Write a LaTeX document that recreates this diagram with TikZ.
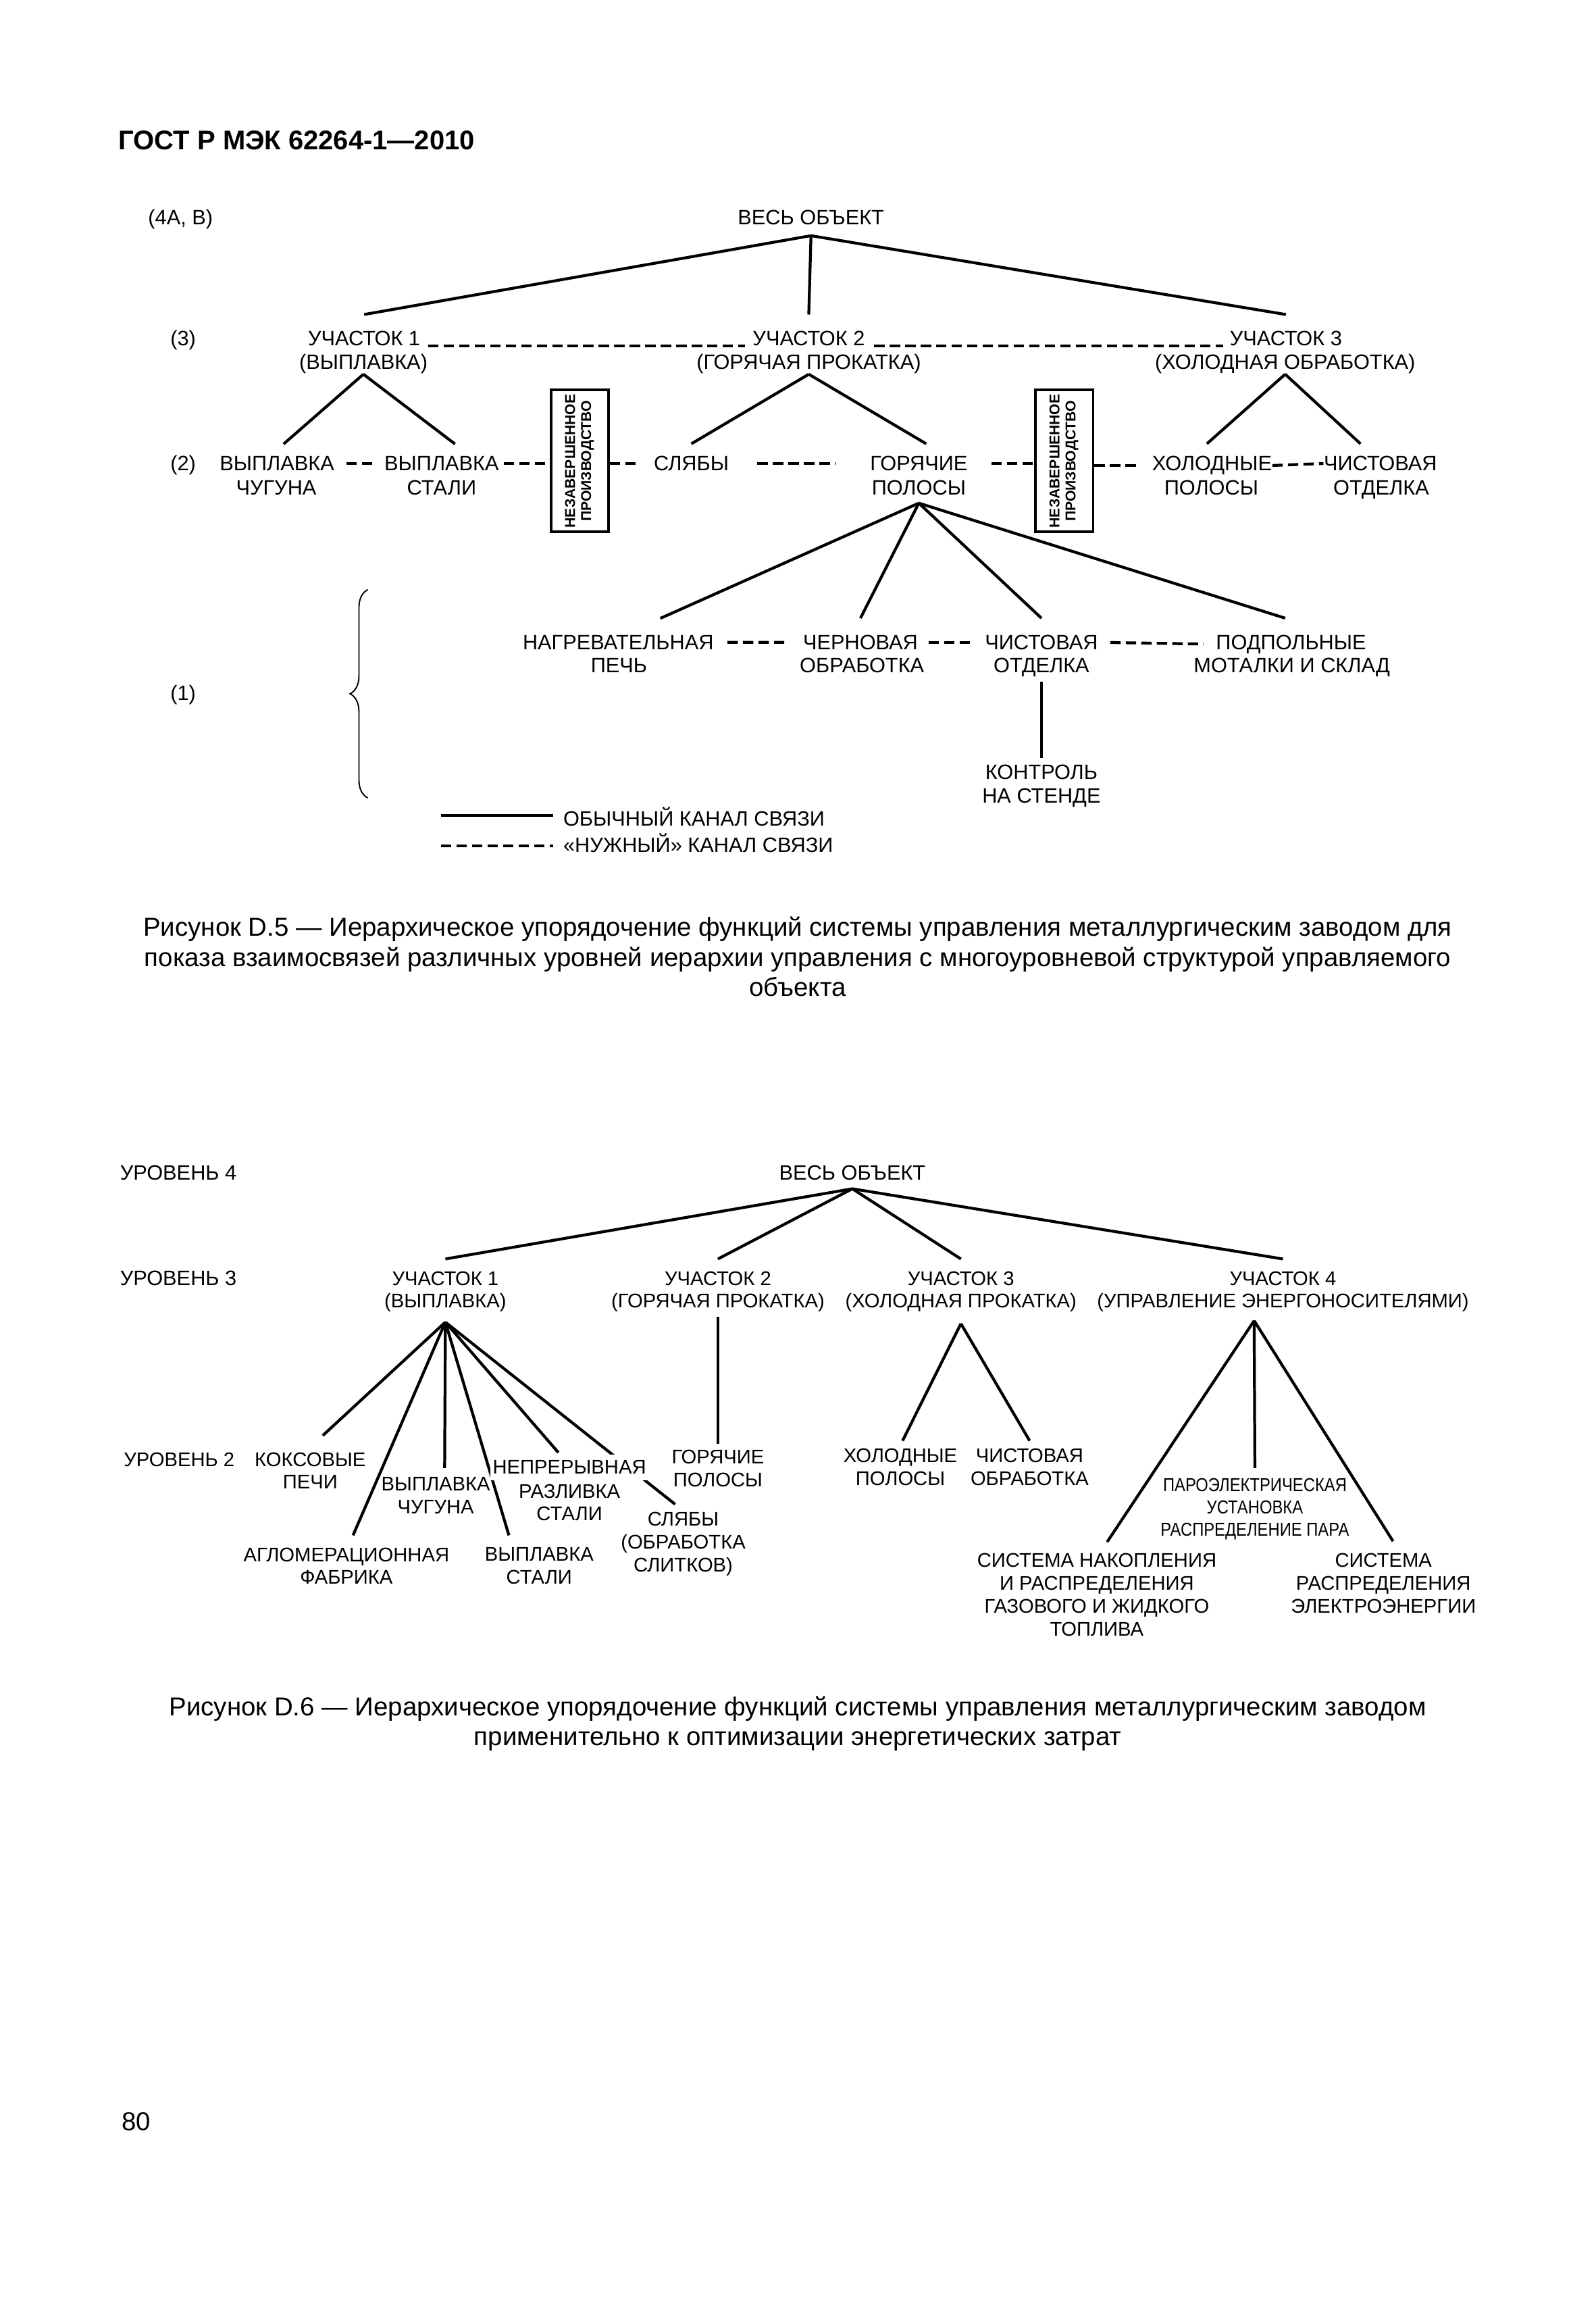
\documentclass[tikz,border=0pt]{standalone}
\usepackage{fontspec}
\usepackage{graphicx}
\setmainfont{Liberation Sans}
\newfontfamily\narrowsf[FakeStretch=0.86]{Liberation Sans}
\usetikzlibrary{decorations.pathreplacing,backgrounds}
\tikzset{
  txt/.style={anchor=base,inner sep=0pt,font=\fontsize{8}{8.8}\selectfont},
  blk/.style={anchor=north,inner sep=0pt,align=center,font=\fontsize{7.6}{8.8}\selectfont},
  link/.style={line width=1.1pt},
  need/.style={line width=1.1pt,dash pattern=on 1.4mm off 0.7mm},
  wip/.style={draw,line width=1pt,inner sep=0pt,minimum width=7.8mm,minimum height=19.2mm,font=\fontsize{5.5}{6.2}\selectfont\bfseries},
  capt/.style={align=center,inner sep=0pt,font=\fontsize{10}{11.6}\selectfont}
}
\newcommand{\wiptext}{\rotatebox{90}{\begin{tabular}{@{}c@{}}НЕЗАВЕРШЕННОЕ\\ПРОИЗВОДСТВО\end{tabular}}}
\begin{document}
\begin{tikzpicture}[x=0.2mm,y=-0.2mm]
\useasboundingbox(0,0)rectangle(1080,1566);
\node[anchor=west,inner sep=0pt,font=\fontsize{10.4}{12}\selectfont\bfseries](hdr)at(80,95){ГОСТ Р МЭК 62264-1—2010};
\node[txt,anchor=base west](l4)at(100,152){(4А, В)};
\node[txt](all5)at(549,152){ВЕСЬ ОБЪЕКТ};
\node[txt](l3)at(124,234){(3)};
\node[txt](u1)at(246.5,234){УЧАСТОК 1};
\node[txt](u1s)at(246,250){(ВЫПЛАВКА)};
\node[txt](u2)at(547.5,234){УЧАСТОК 2};
\node[txt](u2s)at(547.5,250){(ГОРЯЧАЯ ПРОКАТКА)};
\node[txt](u3)at(870.5,234){УЧАСТОК 3};
\node[txt](u3s)at(870,250){(ХОЛОДНАЯ ОБРАБОТКА)};
\draw[link]([yshift=-1.4mm]all5.south)--([yshift=2.2mm]u1.north);
\draw[link]([yshift=-1.4mm]all5.south)--([yshift=2.2mm]u2.north);
\draw[link]([yshift=-1.4mm]all5.south)--([yshift=2.2mm]u3.north);
\draw[need,shorten <=1mm,shorten >=1mm](u1.base east)--(u2.base west);
\draw[need,shorten <=1.2mm,shorten >=0.8mm](u2.base east)--(u3.base west);
\node[txt](l2)at(124,318.5){(2)};
\node[txt](pig)at(187.5,318.5){ВЫПЛАВКА};
\node[txt](pigs)at(187,335){ЧУГУНА};
\node[txt](stl)at(299,318.5){ВЫПЛАВКА};
\node[txt](stls)at(299,335){СТАЛИ};
\node[wip](wip1)at(392.5,312){\wiptext};
\node[txt](slab)at(468,318.5){СЛЯБЫ};
\node[txt](hot)at(622,318.5){ГОРЯЧИЕ};
\node[txt](hots)at(622,335){ПОЛОСЫ};
\node[wip](wip2)at(720.5,312){\wiptext};
\node[txt](cold)at(820.5,318.5){ХОЛОДНЫЕ};
\node[txt](colds)at(820,335){ПОЛОСЫ};
\node[txt](fin)at(934.5,318.5){ЧИСТОВАЯ};
\node[txt](fins)at(935,335){ОТДЕЛКА};
\draw[link](u1s.south)--([xshift=0.9mm,yshift=1.6mm]pig.north);
\draw[link](u1s.south)--([xshift=1.8mm,yshift=1.6mm]stl.north);
\draw[link](u2s.south)--([yshift=1.6mm]slab.north);
\draw[link](u2s.south)--([xshift=1mm,yshift=1.6mm]hot.north);
\draw[link](u3s.south)--([xshift=-0.7mm,yshift=1.6mm]cold.north);
\draw[link](u3s.south)--([xshift=-2.7mm,yshift=1.6mm]fin.north);
\draw[need,shorten <=1.6mm,shorten >=1.2mm](pig.east)--(stl.west);
\draw[need,shorten <=0.6mm](stl.east)--(stl.east-|wip1.west);
\draw[need,shorten >=1.8mm](wip1.east|-slab.west)--(slab.west);
\draw[need,shorten <=3.8mm,shorten >=4.6mm](slab.east)--(hot.west);
\draw[need,shorten <=3.2mm](hot.east)--(hot.east-|wip2.west);
\draw[need,shorten >=1.6mm](wip2.east|-cold.west)--(cold.west);
\draw[need](cold.east)--(fin.west);
\node[txt](heat)at(418.5,439.5){НАГРЕВАТЕЛЬНАЯ};
\node[txt](heats)at(419,455){ПЕЧЬ};
\node[txt](rough)at(582.5,439.5){ЧЕРНОВАЯ};
\node[txt](roughs)at(583.5,455){ОБРАБОТКА};
\node[txt](fine)at(705,439.5){ЧИСТОВАЯ};
\node[txt](fines)at(705,455){ОТДЕЛКА};
\node[txt](coil)at(874,439.5){ПОДПОЛЬНЫЕ};
\node[txt](coils)at(874.5,455){МОТАЛКИ И СКЛАД};
\node[txt](test)at(705,527.5){КОНТРОЛЬ};
\node[txt](tests)at(705,543.5){НА СТЕНДЕ};
\draw[link]([yshift=-1mm]hots.south)--([xshift=5.7mm,yshift=2.2mm]heat.north);
\draw[link]([yshift=-1mm]hots.south)--([yshift=2.2mm]rough.north);
\draw[link]([yshift=-1mm]hots.south)--([yshift=2.2mm]fine.north);
\draw[link]([yshift=-1mm]hots.south)--([xshift=-0.8mm,yshift=2.2mm]coil.north);
\draw[need,shorten <=1.8mm,shorten >=1.8mm](heat.east)--(rough.west);
\draw[need,shorten <=1.4mm,shorten >=1.4mm](rough.east)--(fine.west);
\draw[need,shorten <=1.6mm,shorten >=1.6mm](fine.east)--(coil.west);
\draw[link]([yshift=-0.6mm]fines.south)--([yshift=0.9mm]test.north);
\node[txt](l1)at(124,474){(1)};
\draw[line width=0.5pt,decorate,decoration={brace,amplitude=2.4mm}](249,540)--(249,399);
\node[txt,anchor=base west](legA)at(381,559){ОБЫЧНЫЙ КАНАЛ СВЯЗИ};
\node[txt,anchor=base west](legB)at(381,577){«НУЖНЫЙ» КАНАЛ СВЯЗИ};
\coordinate(legA0)at(298.6,552);
\coordinate(legB0)at(298.6,572.5);
\draw[link,shorten >=1.3mm](legA0)--(legA0-|legA.west);
\draw[need,shorten >=1.3mm](legB0)--(legB0-|legB.west);
\node[capt](cap5)at(540,647.5){Рисунок D.5 — Иерархическое упорядочение функций системы управления металлургическим заводом для\\показа взаимосвязей различных уровней иерархии управления с многоуровневой структурой управляемого\\объекта};
\node[txt,anchor=base west](lv4)at(81,798.5){УРОВЕНЬ 4};
\node[txt](all6)at(577,798.5){ВЕСЬ ОБЪЕКТ};
\node[txt,anchor=base west](lv3)at(81,870){УРОВЕНЬ 3};
\node[blk](s1)at(301.5,860){УЧАСТОК 1\\(ВЫПЛАВКА)};
\node[blk](s2)at(486,860){УЧАСТОК 2\\(ГОРЯЧАЯ ПРОКАТКА)};
\node[blk](s3)at(650.5,860){УЧАСТОК 3\\(ХОЛОДНАЯ ПРОКАТКА)};
\node[blk](s4)at(868.5,860){УЧАСТОК 4\\(УПРАВЛЕНИЕ ЭНЕРГОНОСИТЕЛЯМИ)};
\draw[link]([yshift=-1.1mm]all6.south)--([yshift=1.6mm]s1.north);
\draw[link]([yshift=-1.1mm]all6.south)--([yshift=1.6mm]s2.north);
\draw[link]([yshift=-1.1mm]all6.south)--([yshift=1.6mm]s3.north);
\draw[link]([yshift=-1.1mm]all6.south)--([yshift=1.6mm]s4.north);
\node[txt,anchor=base west,font=\fontsize{7.6}{8.8}\selectfont](lv2)at(83.5,992.5){УРОВЕНЬ 2};
\node[blk](coke)at(210,982.5){КОКСОВЫЕ\\ПЕЧИ};
\node[blk](sinter)at(234.5,1047){АГЛОМЕРАЦИОННАЯ\\ФАБРИКА};
\node[blk](iron)at(295,999.5){ВЫПЛАВКА\\ЧУГУНА};
\node[blk](steel)at(365,1047){ВЫПЛАВКА\\СТАЛИ};
\node[blk,fill=white,inner xsep=0.3mm,inner ysep=0.8mm](cast)at(385.5,984){НЕПРЕРЫВНАЯ};
\node[blk](casts)at(385.5,1004){РАЗЛИВКА\\СТАЛИ};
\node[blk](slabs)at(462.5,1023){СЛЯБЫ\\(ОБРАБОТКА\\СЛИТКОВ)};
\node[blk](hot6)at(486,981){ГОРЯЧИЕ\\ПОЛОСЫ};
\node[blk](cold6)at(609.5,980){ХОЛОДНЫЕ\\ПОЛОСЫ};
\node[blk](fin6)at(697,980){ЧИСТОВАЯ\\ОБРАБОТКА};
\node[blk,font=\narrowsf\fontsize{7.2}{8.65}\selectfont](steam)at(849.5,1000){ПАРОЭЛЕКТРИЧЕСКАЯ\\УСТАНОВКА\\РАСПРЕДЕЛЕНИЕ ПАРА};
\node[blk](fuel)at(742.5,1051){СИСТЕМА НАКОПЛЕНИЯ\\И РАСПРЕДЕЛЕНИЯ\\ГАЗОВОГО И ЖИДКОГО\\ТОПЛИВА};
\node[blk](power)at(936.5,1051){СИСТЕМА\\РАСПРЕДЕЛЕНИЯ\\ЭЛЕКТРОЭНЕРГИИ};
\begin{scope}[on background layer]
\draw[link]([yshift=-1.3mm]s1.south)--([xshift=1.7mm,yshift=2.2mm]coke.north);
\draw[link]([yshift=-1.3mm]s1.south)--([xshift=0.9mm,yshift=1.6mm]sinter.north);
\draw[link]([yshift=-1.3mm]s1.south)--([xshift=1.2mm,yshift=1.2mm]iron.north);
\draw[link]([yshift=-1.3mm]s1.south)--([xshift=-4.1mm,yshift=1.6mm]steel.north);
\draw[link]([yshift=-1.3mm]s1.south)--([xshift=-1.5mm,yshift=0.2mm]cast.north);
\draw[link]([yshift=-1.3mm]s1.south)--([xshift=-1.1mm,yshift=1mm]slabs.north);
\draw[link]([yshift=-0.6mm]s2.south)--([yshift=0.8mm]hot6.north);
\draw[link]([yshift=-1.5mm]s3.south)--([xshift=0.3mm,yshift=1mm]cold6.north);
\draw[link]([yshift=-1.5mm]s3.south)--([yshift=1mm]fin6.north);
\draw[link]([xshift=-3.9mm,yshift=-1.1mm]s4.south)--([xshift=1.4mm,yshift=1.5mm]fuel.north);
\draw[link]([xshift=-3.9mm,yshift=-1.1mm]s4.south)--([yshift=1.3mm]steam.north);
\draw[link]([xshift=-3.9mm,yshift=-1.1mm]s4.south)--([xshift=1.3mm,yshift=1.6mm]power.north);
\end{scope}
\node[capt](cap6)at(540,1166.5){Рисунок D.6 — Иерархическое упорядочение функций системы управления металлургическим заводом\\применительно к оптимизации энергетических затрат};
\node[anchor=base west,inner sep=0pt,font=\fontsize{10}{12}\selectfont](pg)at(82,1442){80};
\end{tikzpicture}
\end{document}
